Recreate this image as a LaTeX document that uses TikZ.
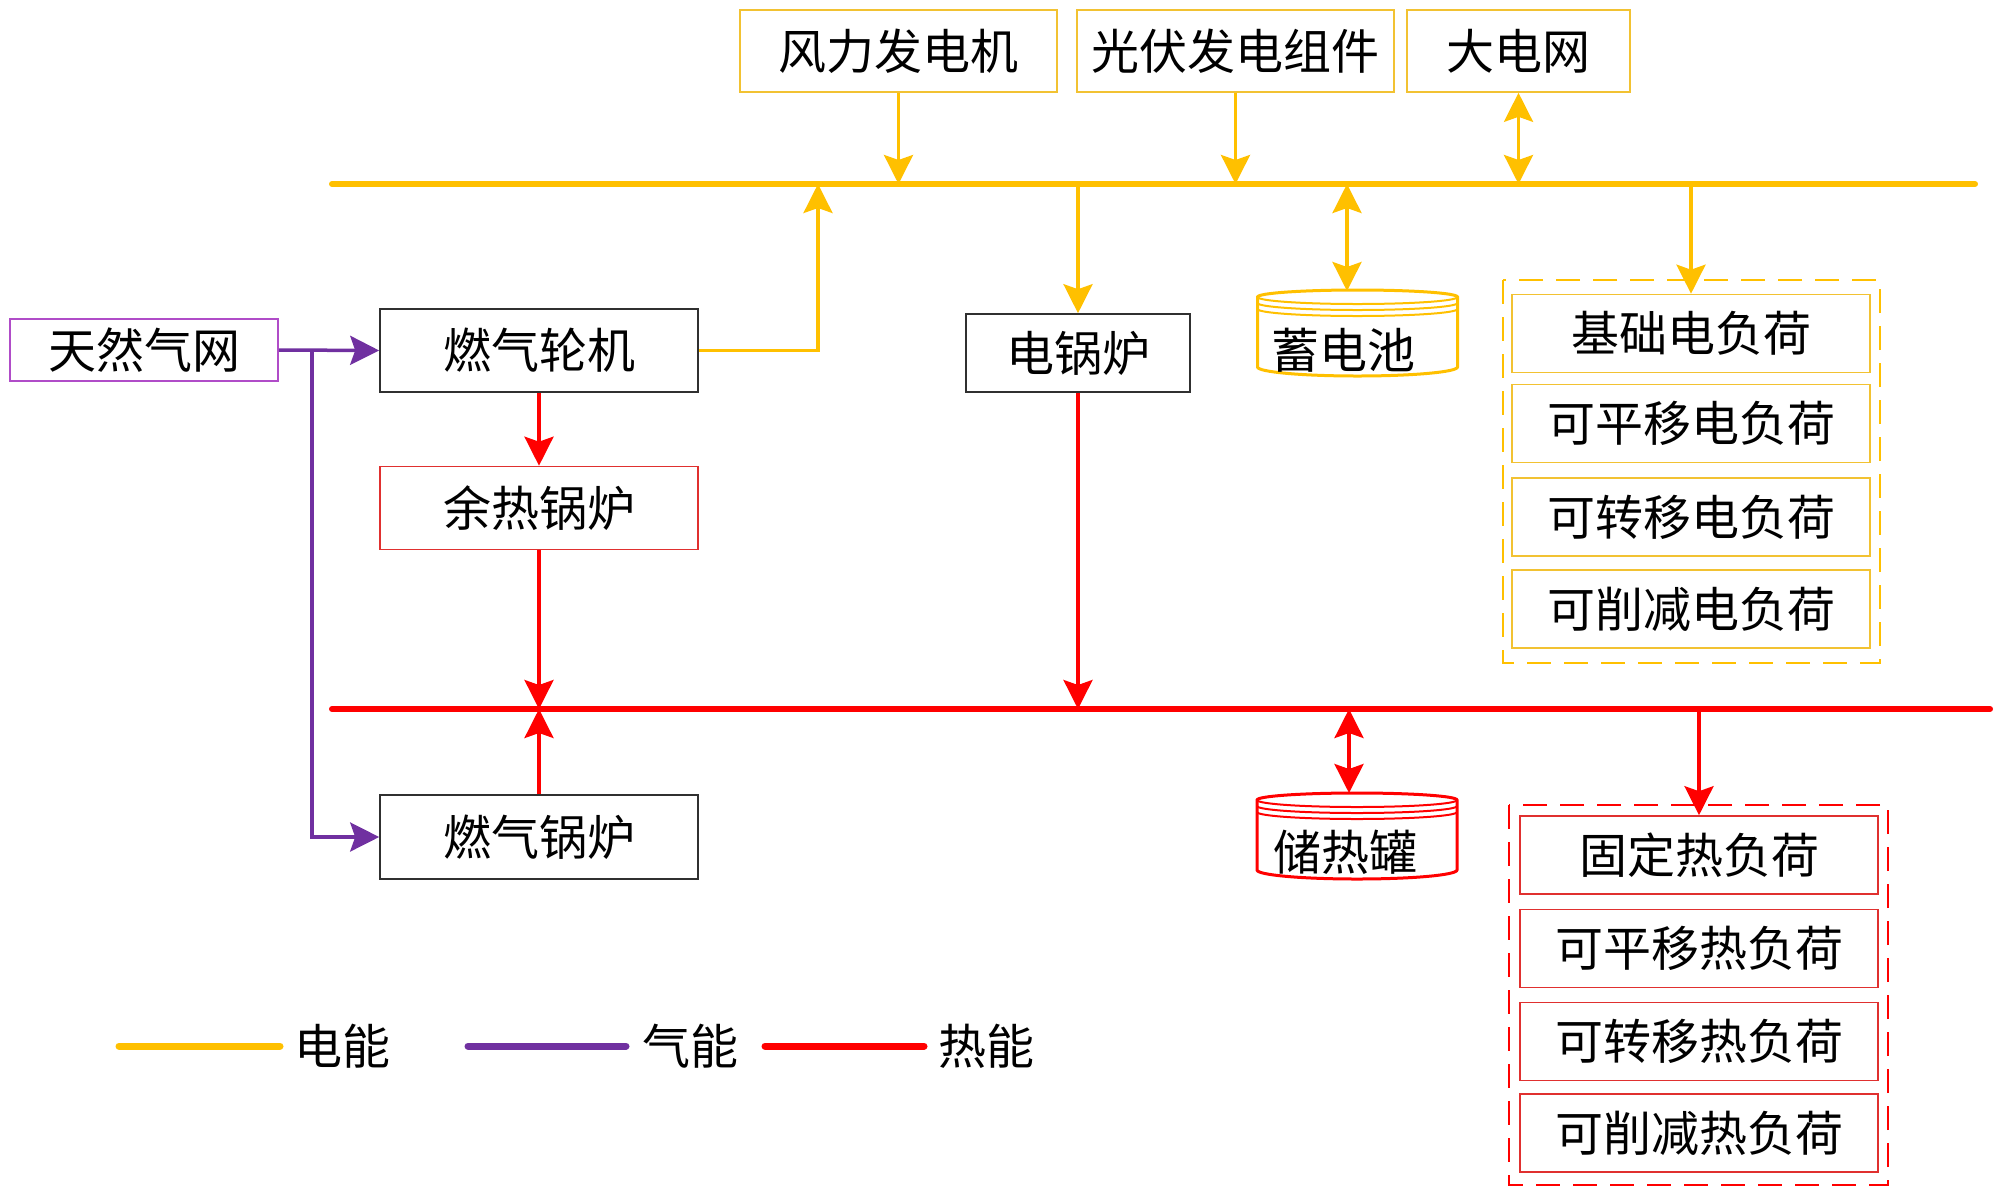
\documentclass[tikz,border=0pt]{standalone}
\usepackage{fontspec}
\newfontfamily\cjk{Noto Sans CJK SC}
\usetikzlibrary{arrows.meta}
\definecolor{ycol}{HTML}{FFC000}
\definecolor{yedge}{HTML}{F2C232}
\definecolor{rcol}{HTML}{FF0000}
\definecolor{redge}{HTML}{E0302F}
\definecolor{pcol}{HTML}{7030A0}
\definecolor{pedge}{HTML}{B04CC8}
\definecolor{kedge}{HTML}{303030}
\tikzset{
  pics/tank/.style={code={
    \draw[#1, line width=3pt, fill=white] (-100,0) -- (-100,-70)
      arc[start angle=180, end angle=360, x radius=100, y radius=9]
      -- (100,0) arc[start angle=0, end angle=180, x radius=100, y radius=7] -- cycle;
    \draw[#1, line width=2pt] (-100,0) arc[start angle=180, end angle=360, x radius=100, y radius=7];
    \draw[#1, line width=2pt] (-100,-6) arc[start angle=180, end angle=360, x radius=100, y radius=7];
    \draw[#1, line width=2pt] (-100,-12) arc[start angle=180, end angle=360, x radius=100, y radius=7];
  }}
}
\begin{document}
\begin{tikzpicture}[x=1pt,y=1pt,
  lbl/.style={font=\cjk\fontsize{48}{52}\selectfont, text=black, inner sep=0pt},
  box/.style={lbl, draw, line width=1.6pt, minimum width=318pt, minimum height=83pt, fill=white},
  kbox/.style={box, draw=kedge},
  rbox/.style={box, draw=redge},
  ybox/.style={box, draw=yedge},
  pbox/.style={box, draw=pedge},
  loadbox/.style={box, minimum width=358pt, minimum height=78pt},
  ebusline/.style={ycol, line width=6pt, line cap=round},
  hbusline/.style={rcol, line width=6pt, line cap=round},
  earrow/.style={ycol, line width=3.5pt, -{Stealth[length=29pt, width=29pt, inset=5pt]}},
  ebiarrow/.style={ycol, line width=3.5pt, {Stealth[length=29pt, width=29pt, inset=5pt]}-{Stealth[length=29pt, width=29pt, inset=5pt]}},
  harrow/.style={rcol, line width=3.5pt, -{Stealth[length=29pt, width=29pt, inset=5pt]}},
  hbiarrow/.style={rcol, line width=3.5pt, {Stealth[length=29pt, width=29pt, inset=5pt]}-{Stealth[length=29pt, width=29pt, inset=5pt]}},
  garrow/.style={pcol, line width=3.5pt, -{Stealth[length=29pt, width=29pt, inset=5pt]}},
  ydash/.style={ycol, line width=2.5pt, dash pattern=on 24pt off 13pt},
  rdash/.style={rcol, line width=2.5pt, dash pattern=on 24pt off 13pt},
  legline/.style={line width=7pt, line cap=round}
]
\useasboundingbox (0,0) rectangle (2000,-1195);

% buses
\coordinate (eb0) at (332,-184);
\coordinate (eb1) at (1975,-184);
\coordinate (hb0) at (332,-709);
\coordinate (hb1) at (1990,-709);
\draw[ebusline] (eb0) -- (eb1);
\draw[hbusline] (hb0) -- (hb1);

% top sources
\node[ybox, minimum width=317pt, minimum height=82pt] (wind) at (898.5,-51) {风力发电机};
\node[ybox, minimum width=317pt, minimum height=82pt] (pv) at (1235.5,-51) {光伏发电组件};
\node[ybox, minimum width=223pt, minimum height=82pt] (grid) at (1518.5,-51) {大电网};

% left units
\node[pbox, minimum width=268pt, minimum height=62pt] (gasnet) at (144,-350) {天然气网};
\node[kbox] (gt) at (539,-350.5) {燃气轮机};
\node[rbox] (hrsg) at (539,-508) {余热锅炉};
\node[kbox, minimum height=84pt] (gb) at (539,-837) {燃气锅炉};
\node[kbox, minimum width=224pt, minimum height=78pt] (eb) at (1078,-353) {电锅炉};

% storage
\pic at (1357.5,-297) {tank=ycol};
\node[lbl] (bat) at (1343,-350) {蓄电池};
\pic at (1357,-800) {tank=rcol};
\node[lbl] (tank) at (1345,-852) {储热罐};
\coordinate (batbus) at (1347,-184);
\coordinate (battop) at (1347,-291);
\coordinate (tkbus) at (1349,-709);
\coordinate (tktop) at (1349,-793);

% electric loads
\draw[ydash] (1503,-280) rectangle (1880,-663);
\node[loadbox, draw=yedge] (el1) at (1691,-333.5) {基础电负荷};
\node[loadbox, draw=yedge] (el2) at (1691,-423.5) {可平移电负荷};
\node[loadbox, draw=yedge] (el3) at (1691,-517) {可转移电负荷};
\node[loadbox, draw=yedge] (el4) at (1691,-609) {可削减电负荷};

% heat loads
\draw[rdash] (1509,-805) rectangle (1888,-1185);
\node[loadbox, draw=redge] (hl1) at (1699,-855) {固定热负荷};
\node[loadbox, draw=redge] (hl2) at (1699,-948.5) {可平移热负荷};
\node[loadbox, draw=redge] (hl3) at (1699,-1041.5) {可转移热负荷};
\node[loadbox, draw=redge] (hl4) at (1699,-1133) {可削减热负荷};

% electric connectors
\coordinate (gtbus) at (818,-184);
\draw[earrow] (wind.south) -- (wind.south |- eb0);
\draw[earrow] (pv.south) -- (pv.south |- eb0);
\draw[ebiarrow] (grid.south) -- (grid.south |- eb0);
\draw[earrow] (gt.east) -| (gtbus);
\draw[earrow] (eb.north |- eb0) -- (eb.north);
\draw[ebiarrow] (batbus) -- (battop);
\draw[earrow] (el1.north |- eb0) -- (el1.north);

% gas connectors
\coordinate (gsplit) at (312,-350);
\draw[garrow] (gasnet.east) -- (gt.west);
\draw[garrow] (gsplit) |- (gb.west);

% heat connectors
\draw[harrow] (gt.south) -- (hrsg.north);
\draw[harrow] (hrsg.south) -- (hrsg.south |- hb0);
\draw[harrow] (gb.north) -- (gb.north |- hb0);
\draw[harrow] (eb.south) -- (eb.south |- hb0);
\draw[hbiarrow] (tkbus) -- (tktop);
\draw[harrow] (hl1.north |- hb0) -- (hl1.north);

% legend
\draw[legline, ycol] (119,-1046) -- (280,-1046);
\node[lbl] (lgE) at (342,-1046) {电能};
\draw[legline, pcol] (468,-1046) -- (626,-1046);
\node[lbl] (lgG) at (690,-1046) {气能};
\draw[legline, rcol] (765,-1046) -- (924,-1046);
\node[lbl] (lgH) at (986,-1046) {热能};
\end{tikzpicture}
\end{document}
